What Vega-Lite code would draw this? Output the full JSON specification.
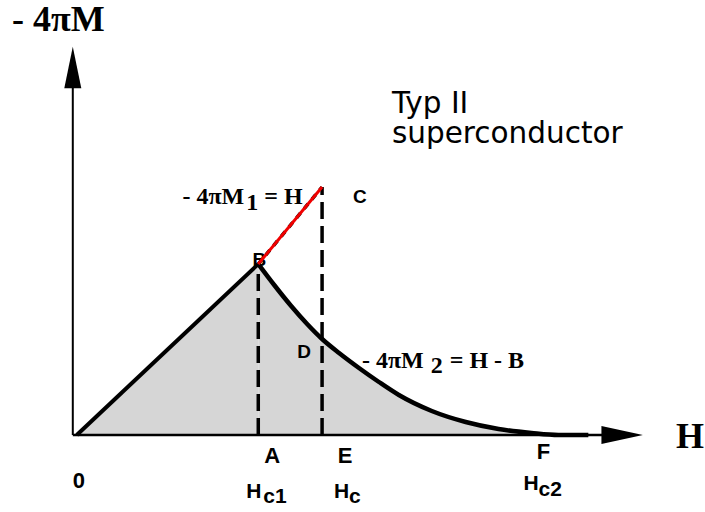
{
  "$schema": "https://vega.github.io/schema/vega-lite/v6.json",
  "width": 705,
  "height": 512,
  "padding": 0,
  "autosize": {"type": "fit", "contains": "padding"},
  "background": "white",
  "config": {"view": {"stroke": null}},
  "encoding": {
    "x": {"field": "H", "type": "quantitative", "scale": {"domain": [-42.31, 345.05], "nice": false, "zero": false}, "axis": null},
    "y": {"field": "M", "type": "quantitative", "scale": {"domain": [-45.03, 254.39], "nice": false, "zero": false}, "axis": null}
  },
  "layer": [
    {
      "data": {"values": [{"H": 0, "M": 0}, {"H": 100, "M": 100}]},
      "mark": {"type": "area", "color": "#d6d6d6", "interpolate": "linear"},
      "encoding": {"y2": {"datum": 0}}
    },
    {
      "data": {"values": [
        {"H": 100, "M": 100}, {"H": 108.79, "M": 87.72}, {"H": 118.13, "M": 75.44}, {"H": 126.92, "M": 64.91},
        {"H": 135.16, "M": 56.14}, {"H": 144.51, "M": 47.95}, {"H": 155.49, "M": 39.18}, {"H": 166.48, "M": 30.99},
        {"H": 177.47, "M": 23.39}, {"H": 195.6, "M": 14.04}, {"H": 214.29, "M": 7.6},
        {"H": 232.42, "M": 3.51}, {"H": 250.55, "M": 1.17}, {"H": 265.38, "M": 0}, {"H": 281.87, "M": 0}
      ]},
      "mark": {"type": "area", "color": "#d6d6d6", "interpolate": "monotone"},
      "encoding": {"y2": {"datum": 0}}
    },
    {
      "data": {"values": [{"text": "B", "H": 100.55, "M": 102.34}, {"text": "D", "H": 125.27, "M": 48.54}, {"text": "C", "H": 156.04, "M": 139.18}]},
      "mark": {"type": "text", "font": "Liberation Sans", "fontWeight": "bold", "fontSize": 19, "align": "center", "baseline": "middle", "color": "black"},
      "encoding": {"text": {"field": "text"}}
    },
    {
      "data": {"values": [{"H": 100, "M": 0, "H2": 100, "M2": 100}, {"H": 135.16, "M": 0, "H2": 135.16, "M2": 145}]},
      "mark": {"type": "rule", "color": "black", "strokeWidth": 3.5, "strokeDash": [17, 7]},
      "encoding": {"x2": {"field": "H2"}, "y2": {"field": "M2"}}
    },
    {
      "data": {"values": [{"H": 0, "M": 0}, {"H": 100, "M": 100}]},
      "mark": {"type": "line", "color": "black", "strokeWidth": 4, "interpolate": "linear"},
      "encoding": {}
    },
    {
      "data": {"values": [
        {"H": 100, "M": 100}, {"H": 108.79, "M": 87.72}, {"H": 118.13, "M": 75.44}, {"H": 126.92, "M": 64.91},
        {"H": 135.16, "M": 56.14}, {"H": 144.51, "M": 47.95}, {"H": 155.49, "M": 39.18}, {"H": 166.48, "M": 30.99},
        {"H": 177.47, "M": 23.39}, {"H": 195.6, "M": 14.04}, {"H": 214.29, "M": 7.6},
        {"H": 232.42, "M": 3.51}, {"H": 250.55, "M": 1.17}, {"H": 265.38, "M": 0}, {"H": 281.87, "M": 0}
      ]},
      "mark": {"type": "line", "color": "black", "strokeWidth": 4.5, "interpolate": "monotone"},
      "encoding": {}
    },
    {
      "data": {"values": [{"H": 100, "M": 100, "H2": 135.16, "M2": 145}]},
      "mark": {"type": "rule", "color": "black", "strokeWidth": 3.5, "strokeDash": [6, 6]},
      "encoding": {"x2": {"field": "H2"}, "y2": {"field": "M2"}}
    },
    {
      "data": {"values": [{"H": 100, "M": 100, "H2": 135.16, "M2": 145}]},
      "mark": {"type": "rule", "color": "#f00000", "strokeWidth": 3},
      "encoding": {"x2": {"field": "H2"}, "y2": {"field": "M2"}}
    },
    {
      "data": {"values": [{"H": -2.2, "M": 0, "H2": -2.2, "M2": 203}]},
      "mark": {"type": "rule", "color": "black", "strokeWidth": 2},
      "encoding": {"x2": {"field": "H2"}, "y2": {"field": "M2"}}
    },
    {
      "data": {"values": [{"H": -2.2, "M": 0, "H2": 300, "M2": 0}]},
      "mark": {"type": "rule", "color": "black", "strokeWidth": 2.5},
      "encoding": {"x2": {"field": "H2"}, "y2": {"field": "M2"}}
    },
    {
      "data": {"values": [{"dir": "up", "H": -2.2, "M": 214.9}, {"dir": "right", "H": 300.5, "M": 0}]},
      "mark": {"type": "point", "filled": true, "color": "black", "opacity": 1, "size": 1720, "strokeWidth": 0},
      "encoding": {
        "shape": {"field": "dir", "type": "nominal", "legend": null,
          "scale": {"domain": ["up", "right"], "range": ["M0,-1L0.41,1L-0.41,1Z", "M1,0L-1,-0.43L-1,0.43Z"]}}
      }
    },
    {
      "data": {"values": [{"text": "- 4πM", "H": -35.71, "M": 236.26}]},
      "mark": {"type": "text", "font": "Liberation Serif", "fontWeight": "bold", "fontSize": 36, "align": "left", "baseline": "alphabetic", "color": "black"},
      "encoding": {"text": {"field": "text"}}
    },
    {
      "data": {"values": [{"text": "H", "H": 330.22, "M": -7.6}]},
      "mark": {"type": "text", "font": "Liberation Serif", "fontWeight": "bold", "fontSize": 36, "align": "left", "baseline": "alphabetic", "color": "black"},
      "encoding": {"text": {"field": "text"}}
    },
    {
      "data": {"values": [{"text": "Typ II", "H": 173.63, "M": 188.3}, {"text": "superconductor", "H": 173.63, "M": 170.76}]},
      "mark": {"type": "text", "font": "DejaVu Sans", "fontSize": 29.5, "align": "left", "baseline": "alphabetic", "color": "black"},
      "encoding": {"text": {"field": "text"}}
    },
    {
      "data": {"values": [
        {"text": "- 4πM", "H": 58.24, "M": 135.09}, {"text": "1", "H": 93.4, "M": 131.58}, {"text": "= H", "H": 103.3, "M": 135.09},
        {"text": "- 4πM", "H": 157.14, "M": 39.18}, {"text": "2", "H": 195.0, "M": 36.26}, {"text": "= H - B", "H": 205.5, "M": 39.18}
      ]},
      "mark": {"type": "text", "font": "Liberation Serif", "fontWeight": "bold", "fontSize": 24, "align": "left", "baseline": "alphabetic", "color": "black"},
      "encoding": {"text": {"field": "text"}}
    },
    {
      "data": {"values": [{"text": "A", "H": 107.69, "M": -12.28}, {"text": "E", "H": 147.8, "M": -12.28}, {"text": "F", "H": 257.14, "M": -9.94}, {"text": "0", "H": 1.1, "M": -26.9}]},
      "mark": {"type": "text", "font": "Liberation Sans", "fontWeight": "bold", "fontSize": 22, "align": "center", "baseline": "middle", "color": "black"},
      "encoding": {"text": {"field": "text"}}
    },
    {
      "data": {"values": [
        {"text": "H", "H": 93.41, "M": -36.84}, {"text": "c1", "H": 102.75, "M": -39.77},
        {"text": "H", "H": 141.76, "M": -36.84}, {"text": "c", "H": 150.0, "M": -39.77},
        {"text": "H", "H": 246.15, "M": -32.16}, {"text": "c2", "H": 254.4, "M": -35.67}
      ]},
      "mark": {"type": "text", "font": "Liberation Sans", "fontWeight": "bold", "fontSize": 21, "align": "left", "baseline": "alphabetic", "color": "black"},
      "encoding": {"text": {"field": "text"}}
    }
  ]
}
